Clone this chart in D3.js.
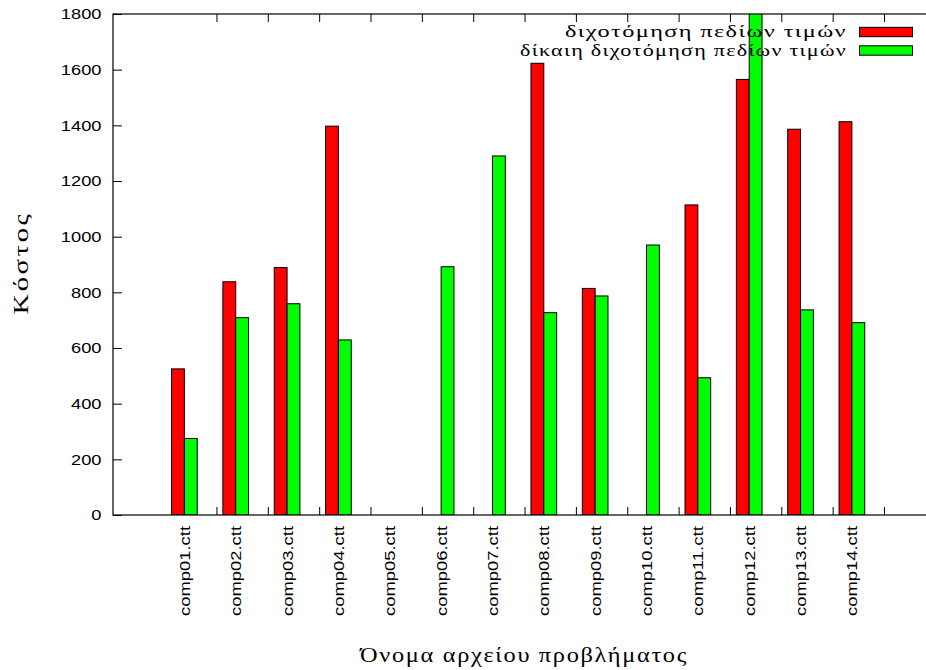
<!DOCTYPE html>
<html>
<head>
<meta charset="utf-8">
<script src="https://cdn.jsdelivr.net/npm/d3@7"></script>
<style>
  body { margin: 0; background: #fff; }
  svg { display: block; }
  .tick-label { font-family: 'Liberation Sans', Arial, sans-serif; font-size: 15.5px; fill: #000; }
  .greek { font-family: 'Liberation Serif', 'DejaVu Serif', serif; fill: #000; }
</style>
</head>
<body>
<svg id="chart"></svg>
<script>
// data
const categories = ['comp01.ctt', 'comp02.ctt', 'comp03.ctt', 'comp04.ctt', 'comp05.ctt', 'comp06.ctt', 'comp07.ctt',
  'comp08.ctt', 'comp09.ctt', 'comp10.ctt', 'comp11.ctt', 'comp12.ctt', 'comp13.ctt', 'comp14.ctt']
const bisection = [525, 838, 889, 1397, 0, 0, 0, 1623, 814, 0, 1114, 1565, 1386, 1413]
const fairBisection = [275, 709, 759, 629, 0, 892, 1290, 727, 787, 970, 493, 1850, 737, 691]
const yTicks = [0, 200, 400, 600, 800, 1000, 1200, 1400, 1600, 1800]
const seriesNames = ['διχοτόμηση πεδίων τιμών', 'δίκαιη διχοτόμηση πεδίων τιμών']
const seriesColors = ['#ff0000', '#00ff00']
const yTitle = 'Κόστος'
const xTitle = 'Όνομα αρχείου προβλήματος'

const width = 926
const height = 670
const plot = { left: 113, right: 935.6, top: 14, bottom: 515 }
const barWidth = 0.25

const svg = d3.select('#chart').attr('width', width).attr('height', height)

const x = d3.scaleLinear().domain([-1.39, 14.63]).range([plot.left, plot.right])
const y = d3.scaleLinear().domain([0, 1800]).range([plot.bottom, plot.top])

// stretch text horizontally like the original renderer
function stretch (sel, k) {
  sel.each(function () {
    const w = this.getComputedTextLength()
    d3.select(this).attr('textLength', w * k).attr('lengthAdjust', 'spacingAndGlyphs')
  })
}

svg.append('defs').append('clipPath').attr('id', 'plot-clip')
  .append('rect')
  .attr('x', plot.left).attr('y', plot.top)
  .attr('width', plot.right - plot.left).attr('height', plot.bottom - plot.top)

// bars
const series = [bisection, fairBisection]
const barWrap = svg.append('g').attr('class', 'bars').attr('clip-path', 'url(#plot-clip)')
series.forEach((values, s) => {
  barWrap.selectAll('.bar-' + s)
    .data(values)
    .enter().append('rect')
    .attr('class', 'bar-' + s)
    .attr('x', (d, i) => x(i + (s - 1) * barWidth))
    .attr('width', x(barWidth) - x(0))
    .attr('y', d => y(d))
    .attr('height', d => y(0) - y(d))
    .attr('fill', seriesColors[s])
    .attr('stroke', '#000')
    .attr('stroke-width', 1)
})

// y axis (inward ticks)
const yAxisG = svg.append('g')
  .attr('transform', `translate(${plot.left},0)`)
  .call(d3.axisLeft(y).tickValues(yTicks).tickSize(-9).tickPadding(11.5).tickFormat(d3.format('d')))
yAxisG.select('.domain').remove()
yAxisG.selectAll('line').attr('stroke', '#000')
yAxisG.selectAll('text').attr('class', 'tick-label').attr('font-size', null).attr('font-family', null)
stretch(yAxisG.selectAll('text'), 1.18)

// x ticks bottom and mirrored top
const xTickVals = categories.map((c, i) => i + 0.625)
const xBottom = svg.append('g')
  .attr('transform', `translate(0,${plot.bottom})`)
  .call(d3.axisBottom(x).tickValues(xTickVals).tickSize(-8).tickFormat(''))
const xTop = svg.append('g')
  .attr('transform', `translate(0,${plot.top})`)
  .call(d3.axisTop(x).tickValues(xTickVals).tickSize(-8).tickFormat(''))
xBottom.select('.domain').remove()
xTop.select('.domain').remove()
svg.selectAll('.tick line').attr('stroke', '#000')

// category labels
const catLabels = svg.append('g').selectAll('text')
  .data(categories)
  .enter().append('text')
  .attr('class', 'tick-label')
  .attr('text-anchor', 'end')
  .attr('dy', '0.36em')
  .attr('transform', (d, i) => `translate(${x(i)},${plot.bottom + 11}) rotate(-90)`)
  .text(d => d)
catLabels.attr('textLength', 90).attr('lengthAdjust', 'spacingAndGlyphs')

// border
svg.append('rect')
  .attr('x', plot.left).attr('y', plot.top)
  .attr('width', plot.right - plot.left).attr('height', plot.bottom - plot.top)
  .attr('fill', 'none').attr('stroke', '#000').attr('stroke-width', 1.2)

// axis titles
svg.append('text')
  .attr('class', 'greek')
  .attr('font-size', 22)
  .attr('letter-spacing', 2)
  .attr('text-anchor', 'middle')
  .attr('transform', `translate(28,263) rotate(-90)`)
  .attr('textLength', 103).attr('lengthAdjust', 'spacingAndGlyphs')
  .text(yTitle)
svg.append('text')
  .attr('class', 'greek')
  .attr('font-size', 22)
  .attr('letter-spacing', 1.5)
  .attr('text-anchor', 'middle')
  .attr('x', 524).attr('y', 662)
  .attr('textLength', 328).attr('lengthAdjust', 'spacingAndGlyphs')
  .text(xTitle)

// legend
const legendWidths = [282, 327]
const legend = svg.append('g').selectAll('g')
  .data(seriesNames)
  .enter().append('g')
  .attr('transform', (d, i) => `translate(0,${32 + i * 18.5})`)
legend.append('text')
  .attr('class', 'greek')
  .attr('font-size', 17.5)
  .attr('letter-spacing', 1)
  .attr('text-anchor', 'end')
  .attr('x', 847)
  .attr('dy', '0.3em')
  .attr('textLength', (d, i) => legendWidths[i]).attr('lengthAdjust', 'spacingAndGlyphs')
  .text(d => d)
legend.append('rect')
  .attr('x', 859.5).attr('y', -4.7)
  .attr('width', 53).attr('height', 9.4)
  .attr('fill', (d, i) => seriesColors[i])
  .attr('stroke', '#000')
</script>
</body>
</html>
